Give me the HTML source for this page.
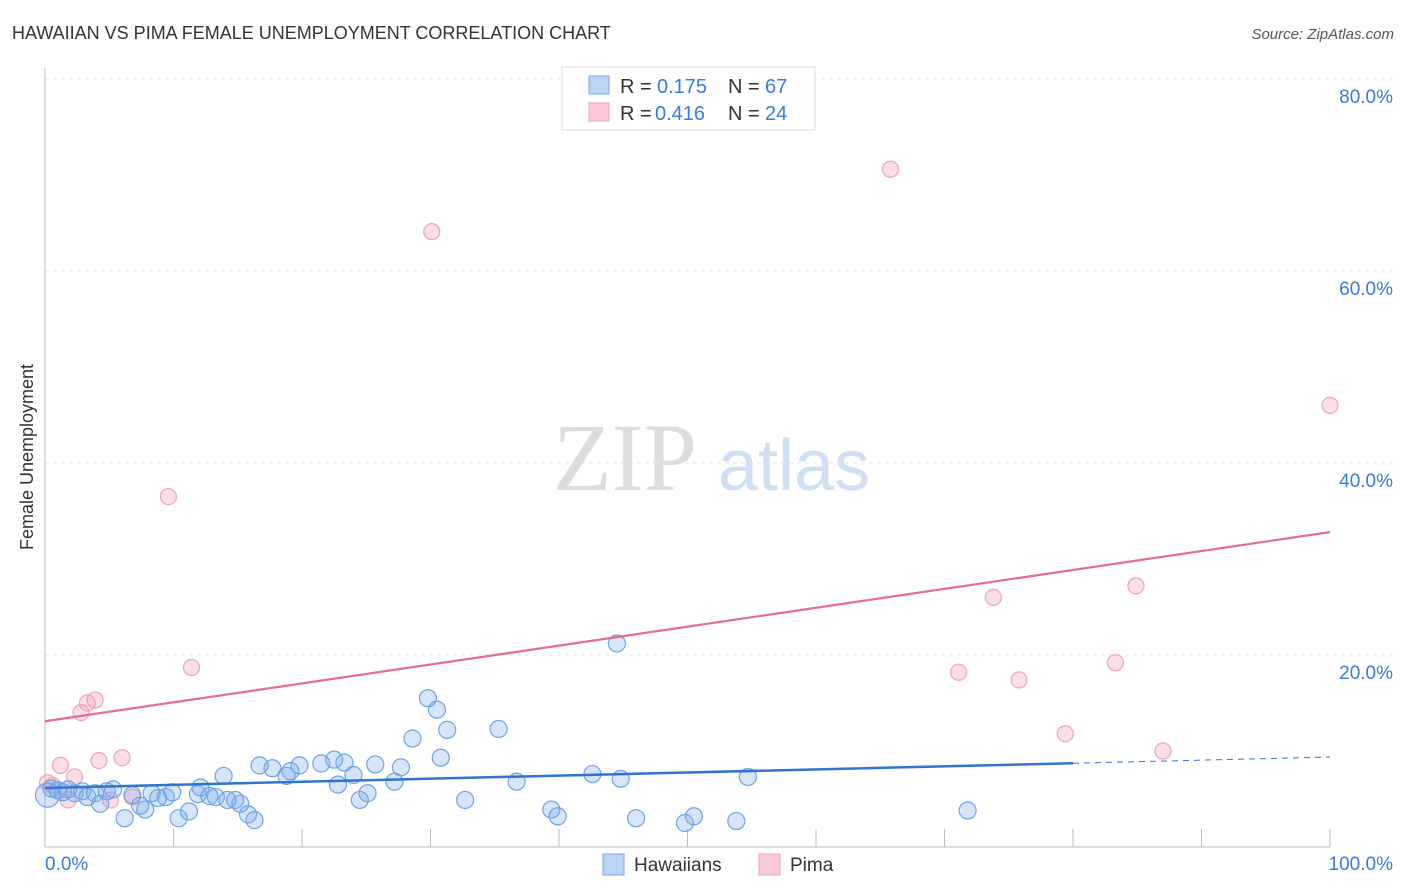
<!DOCTYPE html>
<html><head><meta charset="utf-8"><style>
body{margin:0;background:#fff;font-family:"Liberation Sans",sans-serif;}
svg{display:block}
</style></head><body>
<svg id="c" width="1406" height="892" xmlns="http://www.w3.org/2000/svg">
<text x="12" y="39" font-size="18" fill="#333">HAWAIIAN VS PIMA FEMALE UNEMPLOYMENT CORRELATION CHART</text>
<text x="1394" y="39" font-size="15" fill="#555" font-style="italic" text-anchor="end">Source: ZipAtlas.com</text>
<text x="33" y="457" font-size="18" fill="#333" text-anchor="middle" transform="rotate(-90 33 457)">Female Unemployment</text>
<text x="553" y="490" font-size="96" fill="#ddd" font-family="Liberation Serif,serif">ZIP</text>
<text x="718" y="490" font-size="72" fill="#cfe0f5">atlas</text>
<g id="grid"></g><g id="pts"></g><g id="lines"></g>
<g>
<rect x="562" y="67" width="253" height="63" fill="#fff" stroke="#ddd"/>
<rect x="589" y="76" width="20" height="18" fill="#b9d4f5" stroke="#7aaae6"/>
<text x="620" y="93" font-size="20" fill="#333">R =</text>
<text x="657" y="93" font-size="20" fill="#3a7bd5">0.175</text>
<text x="728" y="93" font-size="20" fill="#333">N =</text>
<text x="765" y="93" font-size="20" fill="#3a7bd5">67</text>
<rect x="589" y="103" width="20" height="18" fill="#f9c9d8" stroke="#eea3bb"/>
<text x="620" y="120" font-size="20" fill="#333">R =</text>
<text x="655" y="120" font-size="20" fill="#3a7bd5">0.416</text>
<text x="728" y="120" font-size="20" fill="#333">N =</text>
<text x="765" y="120" font-size="20" fill="#3a7bd5">24</text>
</g>
<g>
<rect x="603" y="854" width="21" height="21" fill="#b9d4f5" stroke="#7aaae6"/>
<text x="634" y="871" font-size="19" fill="#333">Hawaiians</text>
<rect x="759" y="854" width="21" height="21" fill="#f9c9d8" stroke="#eea3bb"/>
<text x="790" y="871" font-size="19" fill="#333">Pima</text>
</g>
</svg>
<script>
const yTicks=[20,40,60,80];
const yTickLabels=["20.0%","40.0%","60.0%","80.0%"];
const xTickLabels=["0.0%","100.0%"];
const hawX=[0.2,0.5,1,1.4,1.8,2.3,2.9,3.3,3.9,4.3,4.8,5.3,6.2,6.8,7.4,7.8,8.3,8.8,9.4,9.9,10.4,11.2,11.9,12.1,12.8,13.3,13.9,14.2,14.8,15.2,15.8,16.3,16.7,17.7,18.8,19.1,19.8,21.5,22.5,22.8,23.3,24,24.5,25.1,25.7,27.2,27.7,28.6,29.8,30.5,30.8,31.3,32.7,35.3,36.7,39.4,39.9,42.6,44.5,44.8,46,49.8,50.5,53.8,54.7,71.8];
const hawY=[5.4,6.1,5.9,5.7,6,5.6,5.8,5.2,5.6,4.5,5.8,6,3,5.4,4.3,3.9,5.6,5.1,5.2,5.7,3,3.7,5.5,6.2,5.3,5.2,7.4,4.9,4.9,4.5,3.4,2.8,8.5,8.2,7.4,7.9,8.5,8.7,9.1,6.5,8.8,7.5,4.9,5.6,8.6,6.8,8.3,11.3,15.5,14.3,9.3,12.2,4.9,12.3,6.8,3.9,3.2,7.6,21.2,7.1,3,2.5,3.2,2.7,7.3,3.8];
const pimaX=[0.2,0.6,1.2,1.8,2.3,2.8,3.3,3.9,4.2,5.1,6,6.8,9.6,11.4,30.1,65.8,71.1,73.8,75.8,79.4,83.3,84.9,87,100];
const pimaY=[6.7,6.4,8.5,4.9,7.3,14,15,15.3,9,4.9,9.3,5.2,36.5,18.7,64.1,70.6,18.2,26,17.4,11.8,19.2,27.2,10,46];
const hawFit=[6.15,9.37], pimaFit=[13.1,32.8];
const X0=45,X1=1330,Y0=847,Y80=79;
const sx=v=>X0+(X1-X0)*v/100, sy=v=>Y0-(Y0-Y80)*v/80;
const NS="http://www.w3.org/2000/svg";
function mk(t,a,p){const e=document.createElementNS(NS,t);for(const k in a)e.setAttribute(k,a[k]);p.appendChild(e);return e;}
const g=document.getElementById('grid');
let ax=mk('line',{x1:X0,y1:68,x2:X0,y2:Y0,stroke:'#bbb'},g);


let bx=mk('line',{x1:X0,y1:Y0,x2:X1,y2:Y0,stroke:'#bbb'},g);


yTicks.forEach((v,i)=>{
 let l=mk('line',{x1:X0,y1:sy(v),x2:1394,y2:sy(v),stroke:'#e3e3e3','stroke-dasharray':'4,4'},g);
 
 
 let t=mk('text',{x:1393,y:sy(v)+24,'font-size':19,fill:'#3a7bd5','text-anchor':'end'},g);t.textContent=yTickLabels[i];
 
 
});
for(let i=1;i<=10;i++){let l=mk('line',{x1:sx(i*10),y1:Y0-18,x2:sx(i*10),y2:Y0,stroke:'#bbb'},g);
 
 }
xTickLabels.forEach((s,i)=>{let t=mk('text',{x:i?1393:45,y:870,'font-size':19,fill:'#3a7bd5','text-anchor':i?'end':'start'},g);t.textContent=s;
 
 });
const P=document.getElementById('pts');
pimaX.forEach((x,i)=>{let c=mk('circle',{cx:sx(x),cy:sy(pimaY[i]),r:8,fill:'rgba(244,160,188,0.35)',stroke:'#eea3bb','stroke-width':1.2},P);
 
 });
hawX.forEach((x,i)=>{let c=mk('circle',{cx:sx(x),cy:sy(hawY[i]),r:i==0?12:8.5,fill:'rgba(120,170,235,0.3)',stroke:'#6fa2e6','stroke-width':1.2},P);
 
 });
const L=document.getElementById('lines');
const hy=x=>hawFit[0]+(hawFit[1]-hawFit[0])*x/100;
let b1=mk('line',{x1:sx(0),y1:sy(hy(0)),x2:sx(80),y2:sy(hy(80)),stroke:'#2f74d0','stroke-width':2.5},L);


let b2=mk('line',{x1:sx(80),y1:sy(hy(80)),x2:sx(100),y2:sy(hy(100)),stroke:'#2f74d0','stroke-width':1,'stroke-dasharray':'6,5'},L);


let p1=mk('line',{x1:sx(0),y1:sy(pimaFit[0]),x2:sx(100),y2:sy(pimaFit[1]),stroke:'#e8699a','stroke-width':2.2},L);


</script>
</body></html>
